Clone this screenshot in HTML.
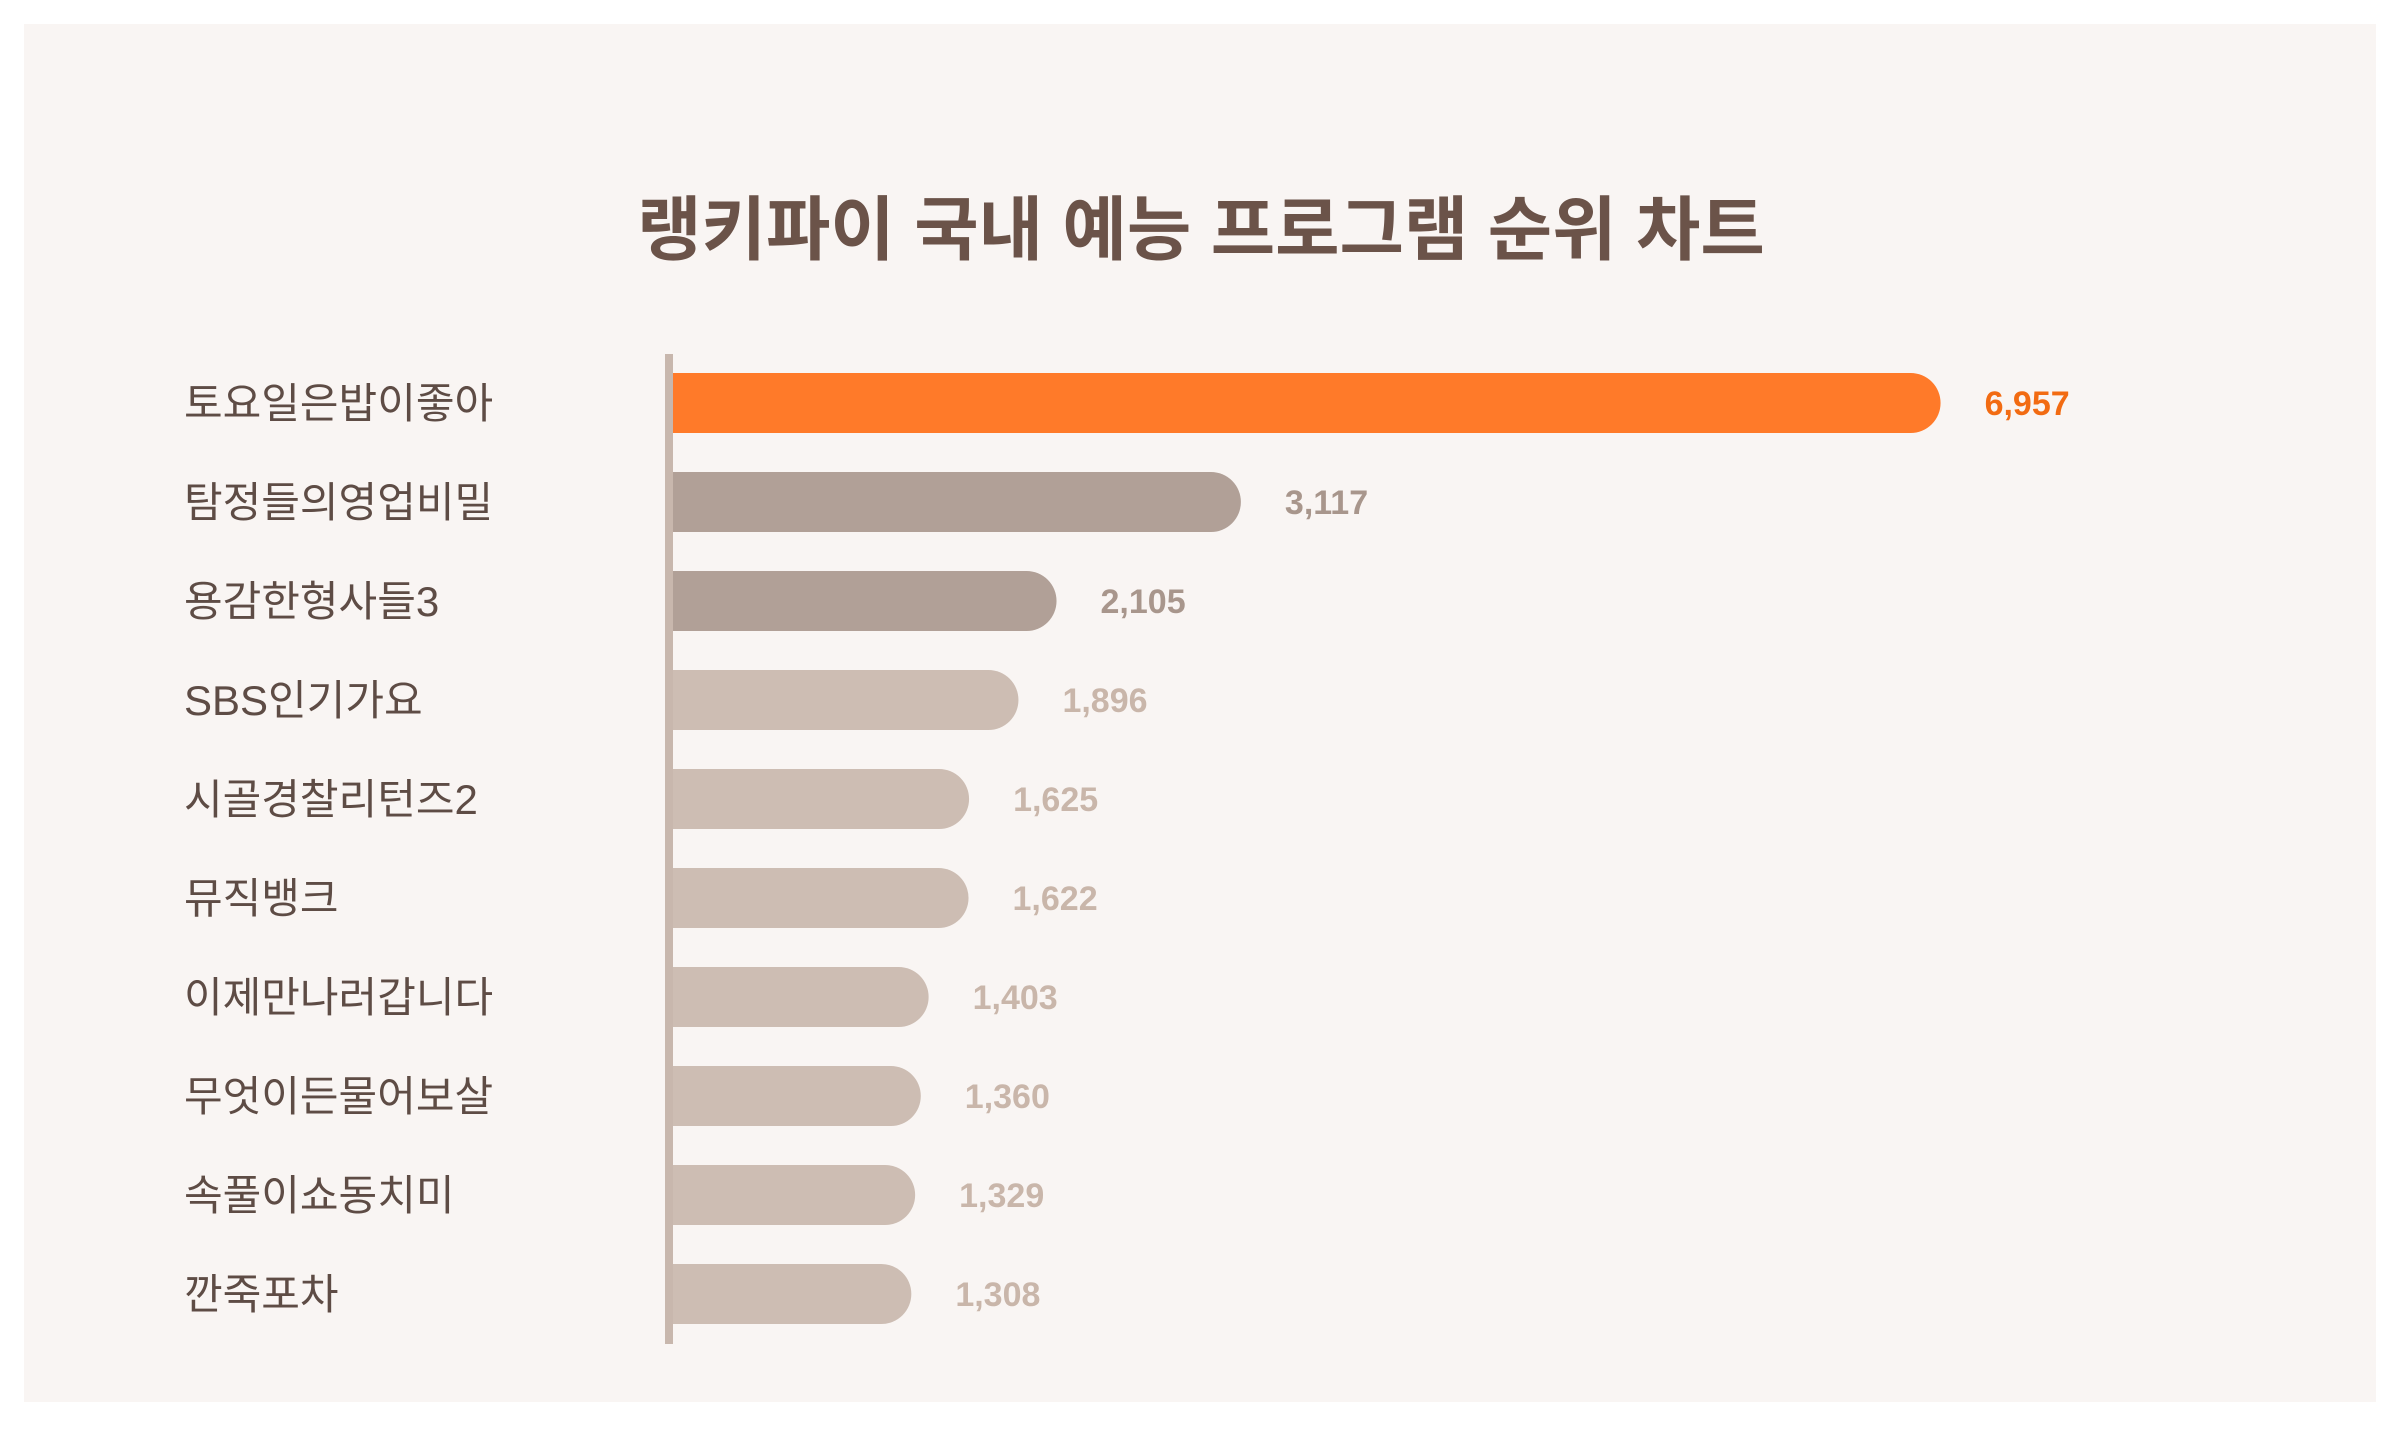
<!DOCTYPE html>
<html><head><meta charset="utf-8">
<style>
html,body{margin:0;padding:0;background:#fff;}
svg{display:block;}
</style></head>
<body>
<svg id="chart" width="2400" height="1440" viewBox="0 0 2400 1440" xmlns="http://www.w3.org/2000/svg">
<rect x="24" y="24" width="2352" height="1378" fill="#f9f5f3"/>
<text x="1201" y="254" text-anchor="middle" font-family="'Liberation Sans','Noto Sans CJK KR',sans-serif" font-weight="bold" font-size="70" fill="#6b5349">랭키파이 국내 예능 프로그램 순위 차트</text>
<g id="bars"></g>
<rect x="665" y="354" width="8" height="990" fill="#c8b7ad"/>
</svg>
<script>
const categories = ["토요일은밥이좋아","탐정들의영업비밀","용감한형사들3","SBS인기가요","시골경찰리턴즈2","뮤직뱅크","이제만나러갑니다","무엇이든물어보살","속풀이쇼동치미","깐죽포차"];
const values = [6957,3117,2105,1896,1625,1622,1403,1360,1329,1308];
const valueLabels = ["6,957","3,117","2,105","1,896","1,625","1,622","1,403","1,360","1,329","1,308"];

const x0 = 673, pxPerUnit = 0.1822;
const xScale = v => x0 + v * pxPerUnit;
const yTop = 373, pitch = 99, barH = 60;
const yScale = i => yTop + i * pitch;
const ns = "http://www.w3.org/2000/svg";
const g = document.getElementById("bars");
const font = "'Liberation Sans','Noto Sans CJK KR',sans-serif";
categories.forEach((c, i) => {
  const y = yScale(i);
  const xe = xScale(values[i]);
  const r = barH / 2;
  const fill = i === 0 ? "#ff7a29" : (i < 3 ? "#b1a097" : "#cdbdb3");
  const lc = i === 0 ? "#f26b12" : (i < 3 ? "#a8968c" : "#c9b6aa");
  const p = document.createElementNS(ns, "path");
  
  
  p.setAttribute("d", `M${x0},${y} H${xe - r} A${r},${r} 0 0 1 ${xe - r},${y + barH} H${x0} Z`);
  p.setAttribute("fill", fill);
  g.appendChild(p);
  const t = document.createElementNS(ns, "text");
  
  
  t.setAttribute("x", 184);
  t.setAttribute("y", y + r + 15);
  t.setAttribute("font-family", font);
  t.setAttribute("font-size", 42);
  t.setAttribute("fill", "#5e4c45");
  t.textContent = c;
  g.appendChild(t);
  const v = document.createElementNS(ns, "text");
  
  
  v.setAttribute("x", xe + 44);
  v.setAttribute("y", y + r + 12);
  v.setAttribute("font-family", font);
  v.setAttribute("font-weight", "bold");
  v.setAttribute("font-size", 34);
  v.setAttribute("fill", lc);
  v.textContent = valueLabels[i];
  g.appendChild(v);
});
</script>
</body></html>
